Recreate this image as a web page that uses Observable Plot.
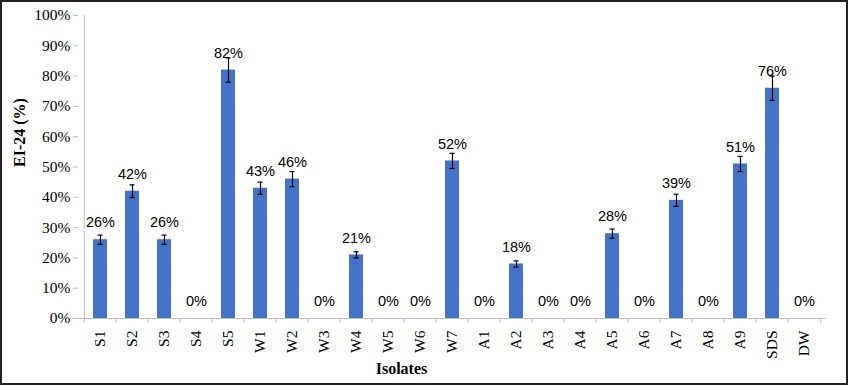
<!DOCTYPE html>
<html>
<head>
<meta charset="utf-8">
<script src="https://cdn.jsdelivr.net/npm/d3@7"></script>
<script src="https://cdn.jsdelivr.net/npm/@observablehq/plot@0.6"></script>
<style>
  html, body { margin: 0; padding: 0; background: #fff; }
  #wrap { width: 848px; height: 385px; box-sizing: border-box; border: 2px solid #222; overflow: hidden; }
  svg { display: block; }
  #wrap g[aria-label="y-axis tick label"], #wrap g[aria-label="x-axis tick label"] {
    font-family: 'Liberation Serif', 'Times New Roman', serif !important;
    font-size: 15.5px !important;
  }
</style>
</head>
<body>
<div id="wrap"></div>
<script>
const isolates = ["S1","S2","S3","S4","S5","W1","W2","W3","W4","W5","W6","W7","A1","A2","A3","A4","A5","A6","A7","A8","A9","SDS","DW"];
const ei24 = [26,42,26,0,82,43,46,0,21,0,0,52,0,18,0,0,28,0,39,0,51,76,0];
const errs = [1.5,2.1,1.5,0,4,2,2.5,0,1,0,0,2.5,0,1,0,0,1.5,0,2,0,2.5,4,0];
const yTicks = [0,10,20,30,40,50,60,70,80,90,100];

const data = isolates.map((name, i) => ({name, value: ei24[i], err: errs[i]}));
const withErr = data.filter(d => d.err > 0);

const W = 844, H = 381;
const mL = 76, mR = 20, mT = 13, mB = 65;
const step = (W - mL - mR) / isolates.length;
const serif = "'Liberation Serif', 'Times New Roman', serif";
const sans = "'Liberation Sans', Arial, sans-serif";

const chart = Plot.plot({
  width: W,
  height: H,
  marginLeft: mL,
  marginRight: mR,
  marginTop: mT,
  marginBottom: mB,
  style: {background: "#fff", overflow: "visible", fontFamily: serif, fontSize: "15.5px", color: "#000"},
  x: {domain: isolates, paddingInner: 0.57, paddingOuter: 0.285, label: null},
  y: {type: "linear", domain: [0, 100], label: null},
  marks: [
    Plot.barY(data, {x: "name", y: "value", fill: "#4472C4"}),
    Plot.ruleX(withErr, {x: "name", y1: d => d.value - d.err, y2: d => d.value + d.err, stroke: "#000", strokeWidth: 1.2}),
    Plot.tickY(withErr, {x: "name", y: d => d.value + d.err, stroke: "#000", strokeWidth: 1.2, inset: 4.5}),
    Plot.tickY(withErr, {x: "name", y: d => d.value - d.err, stroke: "#000", strokeWidth: 1.2, inset: 4.5}),
    Plot.ruleY([0], {stroke: "#bfbfbf", strokeWidth: 1}),
    Plot.ruleX([isolates[0]], {x: d => d, y1: 0, y2: 100, stroke: "#bfbfbf", strokeWidth: 1, dx: -step / 2}),
    Plot.ruleX(isolates, {x: d => d, y1: 0, y2: 0, insetTop: 0, insetBottom: -5, stroke: "#bfbfbf", dx: -step / 2}),
    Plot.ruleX([isolates[isolates.length - 1]], {x: d => d, y1: 0, y2: 0, insetTop: 0, insetBottom: -5, stroke: "#bfbfbf", dx: step / 2}),
    Plot.axisY({ticks: yTicks, tickFormat: d => d + "%", tickSize: 5, tickPadding: 3, stroke: "#bfbfbf", fill: "#000", fontSize: 15.5, fontFamily: serif, label: null}),
    Plot.axisX({tickSize: 0, tickPadding: 12, tickRotate: -90, fontSize: 15.5, fontFamily: serif, fill: "#000", label: null}),
    Plot.text(data, {x: "name", y: "value", text: d => d.value + "%", dy: -17, fontSize: 14.5, fontFamily: sans, fill: "#000"}),
    Plot.text(["EI-24 (%)"], {frameAnchor: "left", dx: -59, rotate: -90, fontSize: 16, fontWeight: "bold", fontFamily: serif, fill: "#000"}),
    Plot.text(["Isolates"], {frameAnchor: "bottom", dx: -51, dy: 55, fontSize: 16, fontWeight: "bold", fontFamily: serif, fill: "#000"})
  ]
});
document.getElementById("wrap").appendChild(chart);
</script>
</body>
</html>
